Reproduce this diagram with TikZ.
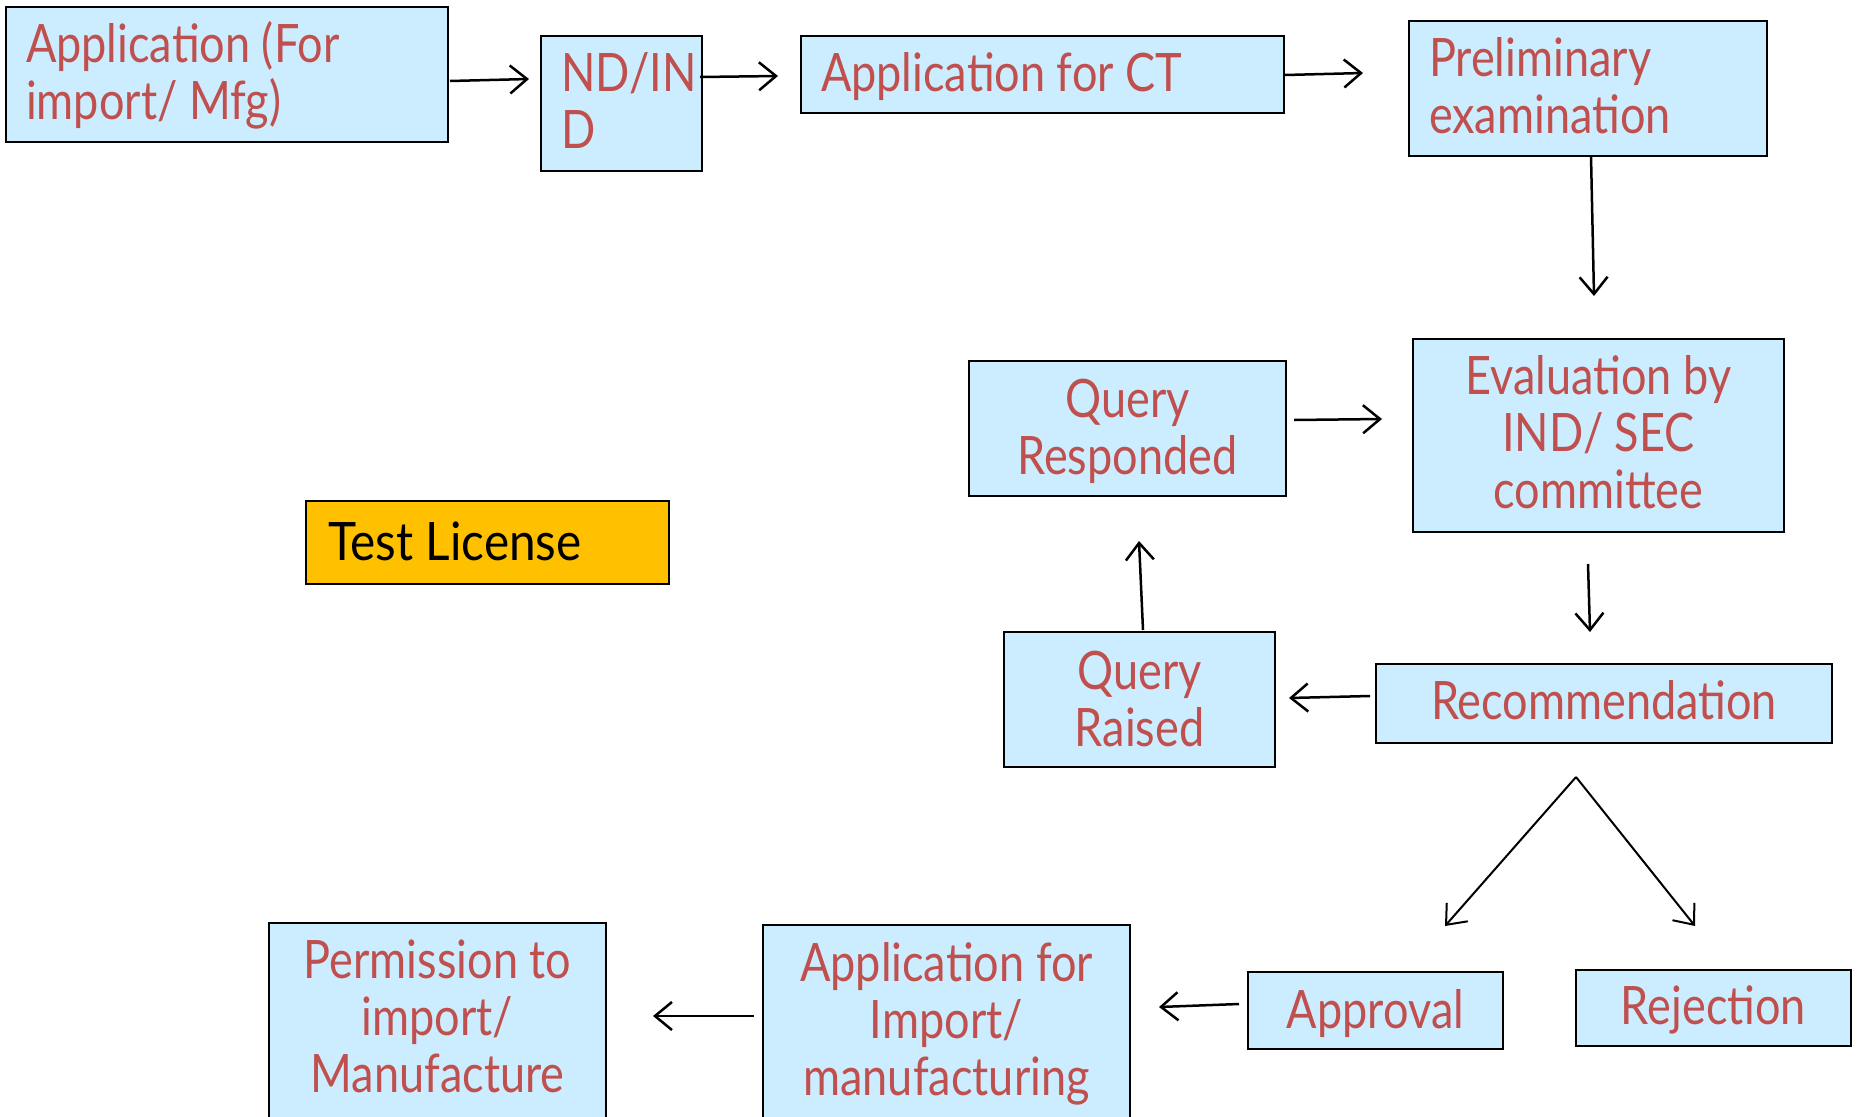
\documentclass[tikz,border=0pt]{standalone}
\usepackage{fontspec}
\usetikzlibrary{arrows.meta,calc}
\newfontfamily\boxfont[FakeStretch=0.85]{Lato}
\newfontfamily\tlfont[FakeStretch=0.9]{Lato}
\definecolor{boxblue}{RGB}{204,236,255}
\definecolor{txtred}{RGB}{192,80,77}
\definecolor{tlorange}{RGB}{255,192,0}
\newcommand\boxtextL[2]{\parbox[t]{#1}{\raggedright #2}}
\newcommand\boxtextC[2]{\parbox[t]{#1}{\centering #2}}
\tikzset{
  box/.style={draw=black, line width=2.2pt, fill=boxblue, anchor=north west,
    inner sep=0pt, outer sep=0pt},
  lbl/.style={inner sep=0pt, outer sep=0pt, text=txtred,
    font=\boxfont\fontsize{53}{57}\selectfont},
  arr/.style={line width=2.5pt, -{Straight Barb[length=17pt,width=28pt]}}
}
\begin{document}
\begin{tikzpicture}[x=1pt,y=-1pt]
\useasboundingbox (0,0) rectangle (1857,1116);
\clip (0,0) rectangle (1857,1116);
\fill[white] (0,0) rectangle (1857,1116);

% top row
\node[box, minimum width=442pt, minimum height=135pt] (a1) at (6,7) {};
\node[lbl, anchor=base west] (a1t) at ($(a1.north west)+(20,56)$)
  {\boxtextL{420pt}{Application (For\\import/ Mfg)}};

\node[box, minimum width=161pt, minimum height=135pt] (nd) at (541,36) {};
\node[lbl, anchor=base west] (ndt) at ($(nd.north west)+(20,56)$)
  {\boxtextL{140pt}{ND/IN\\D}};

\node[box, minimum width=483pt, minimum height=77pt] (ct) at (801,36) {};
\node[lbl, anchor=base west] (ctt) at ($(ct.north west)+(20,56)$)
  {\boxtextL{460pt}{Application for CT}};

\node[box, minimum width=358pt, minimum height=135pt] (pre) at (1409,21) {};
\node[lbl, anchor=base west] (pret) at ($(pre.north west)+(20,56)$)
  {\boxtextL{330pt}{Preliminary\\examination}};

% review loop
\node[box, minimum width=371pt, minimum height=193pt] (ev) at (1413,339) {};
\node[lbl, anchor=base] (evt) at ($(ev.north)+(0,55)$)
  {\boxtextC{360pt}{Evaluation by\\IND/ SEC\\committee}};

\node[box, minimum width=317pt, minimum height=135pt] (qr) at (969,361) {};
\node[lbl, anchor=base] (qrt) at ($(qr.north)+(0,56)$)
  {\boxtextC{300pt}{Query\\Responded}};

\node[box, minimum width=271pt, minimum height=135pt] (qs) at (1004,632) {};
\node[lbl, anchor=base] (qst) at ($(qs.north)+(0,57)$)
  {\boxtextC{260pt}{Query\\Raised}};

\node[box, minimum width=456pt, minimum height=79pt] (rec) at (1376,664) {};
\node[lbl, anchor=base] (rect) at ($(rec.north)+(0,55)$)
  {\boxtextC{440pt}{Recommendation}};

% test licence tag
\node[box, fill=tlorange, minimum width=363pt, minimum height=83pt] (tl) at (306,501) {};
\node[inner sep=0pt, anchor=base west, text=black,
  font=\tlfont\fontsize{53}{57}\selectfont] (tlt) at ($(tl.north west)+(22,59)$)
  {Test License};

% outcome row
\node[box, minimum width=255pt, minimum height=77pt] (ap) at (1248,972) {};
\node[lbl, anchor=base] (apt) at ($(ap.north)+(0,56)$)
  {\boxtextC{250pt}{Approval}};

\node[box, minimum width=275pt, minimum height=76pt] (rj) at (1576,970) {};
\node[lbl, anchor=base] (rjt) at ($(rj.north)+(0,54)$)
  {\boxtextC{270pt}{Rejection}};

\node[box, minimum width=367pt, minimum height=230pt] (ai) at (763,925) {};
\node[lbl, anchor=base] (ait) at ($(ai.north)+(0,56)$)
  {\boxtextC{360pt}{Application for\\Import/\\manufacturing}};

\node[box, minimum width=337pt, minimum height=230pt] (pm) at (269,923) {};
\node[lbl, anchor=base] (pmt) at ($(pm.north)+(0,55)$)
  {\boxtextC{330pt}{Permission to\\import/\\Manufacture}};

% connectors
\draw[arr] ($(a1.north east)+(2,74)$) -- ($(nd.north west)+(-12,43)$);
\draw[arr] ($(nd.north east)+(-2,41)$) -- ($(ct.north west)+(-23,40)$);
\draw[arr] ($(ct.north east)+(1,39)$) -- ($(pre.north west)+(-46,52)$);
\draw[arr] ($(pre.south)+(3,0)$) -- ($(ev.north)+(-4.5,-43)$);
\draw[arr] ($(qr.north east)+(8,59)$) -- ($(ev.north west)+(-31,80)$);
\draw[arr] ($(ev.south)+(-10.5,32)$) -- ($(rec.north)+(-14,-32)$);
\draw[arr] ($(rec.north west)+(-6,32)$) -- ($(qs.north east)+(14,66)$);
\draw[arr] ($(qs.north)+(3.5,-2)$) -- ($(qr.south)+(11.5,45)$);

\coordinate (fork) at ($(rec.south west)+(200,34)$);
\draw[arr, line width=2pt] (fork) -- ($(ap.north)+(69.5,-46)$);
\draw[arr, line width=2pt] (fork) -- ($(rj.north)+(-18.5,-44)$);

\draw[arr] ($(ap.north west)+(-9,32)$) -- ($(ai.north east)+(29,82)$);
\draw[arr] ($(ai.north west)+(-9,91)$) -- ($(pm.north east)+(47,93)$);
\end{tikzpicture}
\end{document}
